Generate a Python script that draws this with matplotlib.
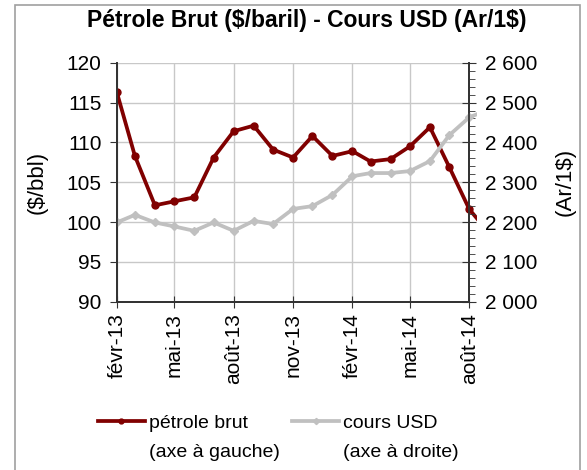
import numpy as np
import pandas as pd
import matplotlib
matplotlib.use("Agg")
import matplotlib.pyplot as plt
from matplotlib.ticker import MultipleLocator, FuncFormatter
from matplotlib.transforms import Bbox, TransformedBbox
from matplotlib.patches import Rectangle

plt.rcParams['font.family'] = ['Liberation Sans', 'DejaVu Sans']

# monthly data, févr-13 .. sept-14 (last point lies just past the axis)
months = pd.date_range("2013-02-01", "2014-09-01", freq="MS")
petrole = [116.3, 108.3, 102.1, 102.6, 103.1, 108.1, 111.4, 112.1, 109.1, 108.1,
           110.8, 108.3, 108.9, 107.6, 107.9, 109.5, 111.9, 106.9, 101.6, 98.6]
usd = [2199, 2218, 2199, 2189, 2178, 2199, 2178, 2203, 2195, 2233,
       2240, 2268, 2315, 2323, 2323, 2328, 2353, 2418, 2463, 2483]

tick_dates = pd.to_datetime(["2013-02-01", "2013-05-01", "2013-08-01", "2013-11-01",
                             "2014-02-01", "2014-05-01", "2014-08-01"])
tick_labels = ["févr-13", "mai-13", "août-13", "nov-13", "févr-14", "mai-14", "août-14"]

red = "#800000"
grey = "#C0C0C0"
dark = "#333333"

fig = plt.figure(figsize=(5.87, 4.70), dpi=100)
ax = fig.add_axes([0.199, 0.358, 0.6005, 0.5086])
ax2 = ax.twinx()

# outer chart border
fig.patches.append(Rectangle((15 / 587, -0.05), 565 / 587, 1.05 - 5 / 470, transform=fig.transFigure,
                             fill=False, edgecolor="#A0A0A0", linewidth=1.2))

l1, = ax.plot(months, petrole, color=red, lw=2.7, marker="o", ms=5, zorder=3)
l2, = ax2.plot(months, usd, color=grey, lw=2.7, marker="D", ms=4.5, zorder=2)

# lines run a few pixels past the right axis, like the original
for a, ln in ((ax, l1), (ax2, l2)):
    ln.set_clip_box(TransformedBbox(Bbox([[0, 0], [1.021, 1]]), a.transAxes))

ax.set_xlim(tick_dates[0], tick_dates[-1])
ax.set_ylim(90, 120)
ax2.set_ylim(2000, 2600)

ax.set_xticks(tick_dates)
ax.set_xticklabels(tick_labels, rotation=90, fontsize=15)
ax.yaxis.set_major_locator(MultipleLocator(5))
ax2.yaxis.set_major_locator(MultipleLocator(100))
ax2.yaxis.set_minor_locator(MultipleLocator(20))
ax2.yaxis.set_major_formatter(FuncFormatter(lambda v, p: f"{int(v):,}".replace(",", " ")))

ax.grid(True, color="#C8C8C8", lw=1)
ax.set_axisbelow(True)

for a in (ax, ax2):
    for s in a.spines.values():
        s.set_color(dark)
        s.set_linewidth(1.3)
    a.spines["top"].set_visible(False)

ax.tick_params(axis="y", labelsize=15, direction="out", length=5, color=dark, pad=6)
ax.tick_params(axis="x", labelsize=15, direction="inout", length=8, color=dark, pad=4)
ax2.tick_params(axis="y", which="major", labelsize=15, direction="inout", length=10, color=dark, pad=6)
ax2.tick_params(axis="y", which="minor", direction="out", length=4, color=dark)

ax.set_ylabel("($/bbl)", fontsize=16)
ax2.set_ylabel("(Ar/1$)", fontsize=16)
ax.yaxis.set_label_coords((47 - 116.7) / 352.6, 0.5)
ax2.yaxis.set_label_coords((555 - 116.7) / 352.6, 0.5)

fig.text(0.522, 1 - 20 / 470, "Pétrole Brut (\\$/baril) - Cours USD (Ar/1\\$)",
         ha="center", va="center", fontsize=16.5, fontweight="bold")

leg = fig.legend([l1, l2], ["pétrole brut", "cours USD"], ncol=2, frameon=False,
                 fontsize=14, loc="center left", bbox_to_anchor=(98 / 587, 1 - 423 / 470),
                 borderpad=0, borderaxespad=0,
                 handlelength=2.4, handletextpad=0.2, columnspacing=2.3, markerscale=0.7)
fig.canvas.draw()
renderer = fig.canvas.get_renderer()
sub = ["(axe à gauche)", "(axe à droite)"]
for t, s in zip(leg.get_texts(), sub):
    bb = t.get_window_extent(renderer)
    x0, y0 = fig.transFigure.inverted().transform((bb.x0, bb.y0))
    fig.text(x0, y0 - 29 / 470, s, fontsize=14, ha="left", va="bottom")

fig.savefig("out.png", dpi=100)
